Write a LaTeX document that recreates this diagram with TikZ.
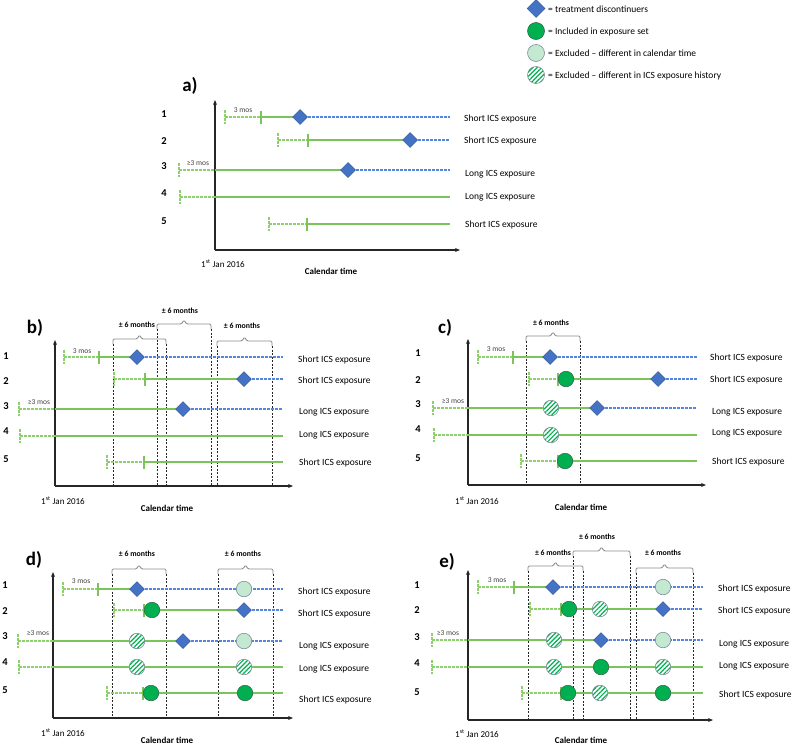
\documentclass[tikz,border=0pt]{standalone}
\usepackage{fontspec}
\setmainfont{Carlito}
\usetikzlibrary{shapes.geometric,patterns.meta,arrows.meta}
\definecolor{gsol}{HTML}{7CC45A}
\definecolor{gdsh}{HTML}{8ED06E}
\definecolor{bdsh}{HTML}{5585DE}
\definecolor{dblue}{HTML}{4472C4}
\definecolor{dblueb}{HTML}{2F5597}
\definecolor{ingreen}{HTML}{00B050}
\definecolor{inbord}{HTML}{2F6B48}
\definecolor{lightg}{HTML}{C4E9D1}
\definecolor{lightb}{HTML}{7A8C9C}
\newcommand\TLlead[3]{\draw[gdash] (#2,#1) -- (#3,#1); \draw[gdash] (#2,#1-7) -- (#2,#1+7);}
\newcommand\TLtick[2]{\draw[gline] (#2,#1-6.5) -- (#2,#1+6.5);}
\newcommand\TLg[3]{\draw[gline] (#2,#1) -- (#3,#1);}
\newcommand\TLb[3]{\draw[bdash] (#2,#1) -- (#3,#1);}
\newcommand\TLbrk[3]{\draw[brk,rounded corners=1.2pt] (#1,#3+5) -- (#1,#3) -- ({(#1+#2)/2-2.5},#3) -- ({(#1+#2)/2},#3-4) -- ({(#1+#2)/2+2.5},#3) -- (#2,#3) -- (#2,#3+5);}
\newcommand\TLvd[3]{\draw[vdash] (#1,#2) -- (#1,#3);}
\begin{document}
\begin{tikzpicture}[x=1pt,y=-1pt,
  gline/.style={draw=gsol,line width=1.25pt},
  gdash/.style={draw=gdsh,line width=1.1pt,dash pattern=on 2.5pt off 1.5pt},
  bdash/.style={draw=bdsh,line width=1.1pt,dash pattern=on 2.5pt off 1.5pt},
  axis/.style={draw=black!85,line width=1.2pt,-{Stealth[length=5pt,width=4pt]}},
  vdash/.style={draw=black!85,line width=0.8pt,dash pattern=on 2pt off 1.5pt},
  brk/.style={draw=black!45,line width=0.9pt},
  disc/.style={diamond,fill=dblue,draw=dblueb,line width=0.5pt,minimum width=15pt,minimum height=15pt,inner sep=0pt},
  incl/.style={circle,fill=ingreen,draw=inbord,line width=0.6pt,minimum size=15.5pt,inner sep=0pt},
  excal/.style={circle,fill=lightg,draw=lightb,line width=0.6pt,minimum size=15.5pt,inner sep=0pt},
  exhist/.style={circle,draw=lightb,line width=0.6pt,minimum size=15.5pt,inner sep=0pt,preaction={fill=white},pattern={Lines[angle=45,distance=3.2pt,line width=1.2pt]},pattern color=ingreen},
  lbl/.style={font=\fontsize{9.5}{11}\selectfont,anchor=west,inner sep=0pt},
  leg/.style={font=\fontsize{9.5}{11}\selectfont,anchor=west,inner sep=0pt},
  rnum/.style={font=\bfseries\fontsize{10.5}{12}\selectfont,inner sep=0pt},
  plab/.style={font=\bfseries\fontsize{19}{22}\selectfont,inner sep=0pt},
  smalltxt/.style={font=\fontsize{7.5}{9}\selectfont,text=black!75,inner sep=0pt},
  sixm/.style={font=\bfseries\fontsize{7.8}{9}\selectfont,inner sep=0pt},
  caltxt/.style={font=\bfseries\fontsize{9}{11}\selectfont,inner sep=0pt},
  jantxt/.style={font=\fontsize{9}{11}\selectfont,inner sep=0pt}]
\useasboundingbox (0,0) rectangle (794,745);
% ---------------- Legend ----------------
\node[disc,minimum width=18pt,minimum height=18pt] (Lg1) at (536,8.5) {};
\node[incl,minimum size=17pt] (Lg2) at (536,31) {};
\node[excal,minimum size=17pt] (Lg3) at (536,53) {};
\node[exhist,minimum size=17pt] (Lg4) at (536,75) {};
\node[leg] (Lt1) at (548,9.5) {= treatment discontinuers};
\node[leg] (Lt2) at (548,31.5) {= Included in exposure set};
\node[leg] (Lt3) at (548,53.5) {= Excluded – different in calendar time};
\node[leg] (Lt4) at (548,76) {= Excluded – different in ICS exposure history};

% ---------------- Panel a ----------------
\node[plab] (aL) at (190,86) {a)};
\coordinate (aO) at (215,250);
\draw[axis] (aO) -- (215,100);
\draw[axis] (aO) -- (460,250);
\TLlead{117}{225}{261}\TLtick{117}{261}\TLg{117}{261}{300}\TLb{117}{300}{450}
\TLlead{140}{278}{308}\TLtick{140}{308}\TLg{140}{308}{410}\TLb{140}{410}{450}
\TLlead{170}{179}{215}\TLg{170}{215}{348}\TLb{170}{348}{450}
\TLlead{197}{180}{215}\TLg{197}{215}{450}
\TLlead{224}{269}{307}\TLtick{224}{307}\TLg{224}{307}{450}
\node[disc] (a1) at (300,117) {};
\node[disc] (a2) at (410,140) {};
\node[disc] (a3) at (348,170) {};
\node[smalltxt] (am1) at (243,110) {3 mos};
\node[smalltxt] (am3) at (198,163) {≥3 mos};
\node[rnum] (an1) at (164,114) {1};
\node[rnum] (an2) at (164,141) {2};
\node[rnum] (an3) at (164,166) {3};
\node[rnum] (an4) at (164,193) {4};
\node[rnum] (an5) at (164,221) {5};
\node[lbl] (at1) at (464,119) {Short ICS exposure};
\node[lbl] (at2) at (464,141) {Short ICS exposure};
\node[lbl] (at3) at (465,174) {Long ICS exposure};
\node[lbl] (at4) at (465,197) {Long ICS exposure};
\node[lbl] (at5) at (465,225) {Short ICS exposure};
\node[jantxt] (aj) at (223,264) {1\textsuperscript{st} Jan 2016};
\node[caltxt] (ac) at (331,271) {Calendar time};

% ---------------- Panel b ----------------
\node[plab] (bL) at (35,328) {b)};
\coordinate (bO) at (55,486);
\TLbrk{113}{166}{339}\TLbrk{157}{211}{324}\TLbrk{217}{272}{341}
\node[sixm] (bs1) at (137,325) {± 6 months};
\node[sixm] (bs2) at (180,311) {± 6 months};
\node[sixm] (bs3) at (242,326) {± 6 months};
\TLvd{113}{344}{486}\TLvd{166}{344}{486}\TLvd{157}{329}{486}\TLvd{211}{329}{486}\TLvd{217}{346}{486}\TLvd{272}{346}{486}
\draw[axis] (bO) -- (55,340);
\draw[axis] (bO) -- (293,486);
\TLlead{357}{64}{99}\TLtick{357}{99}\TLg{357}{99}{137}\TLb{357}{137}{283}
\TLlead{379}{114}{145}\TLtick{379}{145}\TLg{379}{145}{244}\TLb{379}{244}{283}
\TLlead{409}{19}{55}\TLg{409}{55}{183}\TLb{409}{183}{283}
\TLlead{436}{20}{55}\TLg{436}{55}{283}
\TLlead{462}{107}{144}\TLtick{462}{144}\TLg{462}{144}{283}
\node[disc] (b1) at (137,357) {};
\node[disc] (b2) at (244,379) {};
\node[disc] (b3) at (183,409) {};
\node[smalltxt] (bm1) at (82,351) {3 mos};
\node[smalltxt] (bm3) at (39,402) {≥3 mos};
\node[rnum] (bn1) at (6,356) {1};
\node[rnum] (bn2) at (6,381) {2};
\node[rnum] (bn3) at (6,406) {3};
\node[rnum] (bn4) at (6,431) {4};
\node[rnum] (bn5) at (6,459) {5};
\node[lbl] (bt1) at (298,360) {Short ICS exposure};
\node[lbl] (bt2) at (298,381) {Short ICS exposure};
\node[lbl] (bt3) at (299,412) {Long ICS exposure};
\node[lbl] (bt4) at (299,435) {Long ICS exposure};
\node[lbl] (bt5) at (299,463) {Short ICS exposure};
\node[jantxt] (bj) at (63,501) {1\textsuperscript{st} Jan 2016};
\node[caltxt] (bc) at (167,508) {Calendar time};

% ---------------- Panel c ----------------
\node[plab] (cL) at (445,328) {c)};
\coordinate (cO) at (468,485);
\TLbrk{526}{580}{336}
\node[sixm] (cs1) at (551,323) {± 6 months};
\TLvd{526}{341}{485}\TLvd{580}{341}{485}
\draw[axis] (cO) -- (468,339);
\draw[axis] (cO) -- (706,485);
\TLlead{357}{478}{513}\TLtick{357}{513}\TLg{357}{513}{550}\TLb{357}{550}{697}
\TLlead{379}{529}{558}\TLtick{379}{558}\TLg{379}{558}{658}\TLb{379}{658}{697}
\TLlead{408}{433}{468}\TLg{408}{468}{597}\TLb{408}{597}{697}
\TLlead{435}{434}{468}\TLg{435}{468}{697}
\TLlead{461}{521}{558}\TLtick{461}{558}\TLg{461}{558}{697}
\node[disc] (c1) at (550,357) {};
\node[incl] (c2a) at (566,379) {};
\node[disc] (c2b) at (658,379) {};
\node[exhist] (c3a) at (551,408) {};
\node[disc] (c3b) at (597,408) {};
\node[exhist] (c4a) at (551,435) {};
\node[incl] (c5a) at (565,461) {};
\node[smalltxt] (cm1) at (496,349) {3 mos};
\node[smalltxt] (cm3) at (453,401) {≥3 mos};
\node[rnum] (cn1) at (418,353) {1};
\node[rnum] (cn2) at (418,380) {2};
\node[rnum] (cn3) at (418,404) {3};
\node[rnum] (cn4) at (418,429) {4};
\node[rnum] (cn5) at (418,458) {5};
\node[lbl] (ct1) at (710,358) {Short ICS exposure};
\node[lbl] (ct2) at (710,380) {Short ICS exposure};
\node[lbl] (ct3) at (712,412) {Long ICS exposure};
\node[lbl] (ct4) at (712,433) {Long ICS exposure};
\node[lbl] (ct5) at (712,462) {Short ICS exposure};
\node[jantxt] (cj) at (477,501) {1\textsuperscript{st} Jan 2016};
\node[caltxt] (cc) at (581,507) {Calendar time};

% ---------------- Panel d ----------------
\node[plab] (dL) at (34,560) {d)};
\coordinate (dO) at (53,718);
\TLbrk{112}{166}{569}\TLbrk{218}{273}{569}
\node[sixm] (ds1) at (137,554) {± 6 months};
\node[sixm] (ds2) at (243,554) {± 6 months};
\TLvd{112}{574}{718}\TLvd{166}{574}{718}\TLvd{218}{574}{718}\TLvd{273}{574}{718}
\draw[axis] (dO) -- (53,572);
\draw[axis] (dO) -- (293,718);
\TLlead{589}{63}{98}\TLtick{589}{98}\TLg{589}{98}{137}\TLb{589}{137}{283}
\TLlead{610}{114}{144}\TLtick{610}{144}\TLg{610}{144}{244}\TLb{610}{244}{283}
\TLlead{641}{18}{53}\TLg{641}{53}{183}\TLb{641}{183}{283}
\TLlead{667}{19}{53}\TLg{667}{53}{283}
\TLlead{693}{107}{143}\TLtick{693}{143}\TLg{693}{143}{283}
\node[disc] (d1a) at (137,589) {};
\node[excal] (d1b) at (244,589) {};
\node[incl] (d2a) at (152,610) {};
\node[disc] (d2b) at (244,610) {};
\node[exhist] (d3a) at (137,641) {};
\node[disc] (d3b) at (183,641) {};
\node[excal] (d3c) at (244,641) {};
\node[exhist] (d4a) at (137,667) {};
\node[exhist] (d4b) at (244,667) {};
\node[incl] (d5a) at (151,693) {};
\node[incl] (d5b) at (245,693) {};
\node[smalltxt] (dm1) at (81,581) {3 mos};
\node[smalltxt] (dm3) at (38,633) {≥3 mos};
\node[rnum] (dn1) at (5,585) {1};
\node[rnum] (dn2) at (5,611) {2};
\node[rnum] (dn3) at (5,636) {3};
\node[rnum] (dn4) at (5,662) {4};
\node[rnum] (dn5) at (5,690) {5};
\node[lbl] (dt1) at (298,592) {Short ICS exposure};
\node[lbl] (dt2) at (298,614) {Short ICS exposure};
\node[lbl] (dt3) at (299,646) {Long ICS exposure};
\node[lbl] (dt4) at (299,669) {Long ICS exposure};
\node[lbl] (dt5) at (299,700) {Short ICS exposure};
\node[jantxt] (dj) at (63,733) {1\textsuperscript{st} Jan 2016};
\node[caltxt] (dc) at (167,740) {Calendar time};

% ---------------- Panel e ----------------
\node[plab] (eL) at (447,562) {e)};
\coordinate (eO) at (468,720);
\TLbrk{528}{583}{566}\TLbrk{573}{630}{551}\TLbrk{636}{693}{568}
\node[sixm] (es1) at (553,553) {± 6 months};
\node[sixm] (es2) at (597,537) {± 6 months};
\node[sixm] (es3) at (663,553) {± 6 months};
\TLvd{528}{571}{720}\TLvd{583}{571}{720}\TLvd{573}{556}{720}\TLvd{630}{556}{720}\TLvd{636}{573}{720}\TLvd{693}{573}{720}
\draw[axis] (eO) -- (468,570);
\draw[axis] (eO) -- (713,720);
\TLlead{587}{478}{514}\TLtick{587}{514}\TLg{587}{514}{553}\TLb{587}{553}{703}
\TLlead{609}{530}{561}\TLtick{609}{561}\TLg{609}{561}{663}\TLb{609}{663}{703}
\TLlead{640}{432}{468}\TLg{640}{468}{601}\TLb{640}{601}{703}
\TLlead{667}{432}{468}\TLg{667}{468}{703}
\TLlead{693}{522}{561}\TLtick{693}{561}\TLg{693}{561}{703}
\node[disc] (e1a) at (553,587) {};
\node[excal] (e1b) at (663,587) {};
\node[incl] (e2a) at (569,609) {};
\node[exhist] (e2b) at (600,609) {};
\node[disc] (e2c) at (663,609) {};
\node[exhist] (e3a) at (554,640) {};
\node[disc] (e3b) at (601,640) {};
\node[excal] (e3c) at (663,640) {};
\node[exhist] (e4a) at (554,667) {};
\node[incl] (e4b) at (601,667) {};
\node[exhist] (e4c) at (663,667) {};
\node[incl] (e5a) at (568,693) {};
\node[exhist] (e5b) at (600,693) {};
\node[incl] (e5c) at (663,693) {};
\node[smalltxt] (em1) at (497,580) {3 mos};
\node[smalltxt] (em3) at (448,633) {≥3 mos};
\node[rnum] (en1) at (417,585) {1};
\node[rnum] (en2) at (417,610) {2};
\node[rnum] (en3) at (417,637) {3};
\node[rnum] (en4) at (417,663) {4};
\node[rnum] (en5) at (417,692) {5};
\node[lbl] (et1) at (718,589) {Short ICS exposure};
\node[lbl] (et2) at (718,611) {Short ICS exposure};
\node[lbl] (et3) at (719,644) {Long ICS exposure};
\node[lbl] (et4) at (719,666) {Long ICS exposure};
\node[lbl] (et5) at (719,695) {Short ICS exposure};
\node[jantxt] (ej) at (477,734) {1\textsuperscript{st} Jan 2016};
\node[caltxt] (ec) at (581,740) {Calendar time};
\end{tikzpicture}
\end{document}
